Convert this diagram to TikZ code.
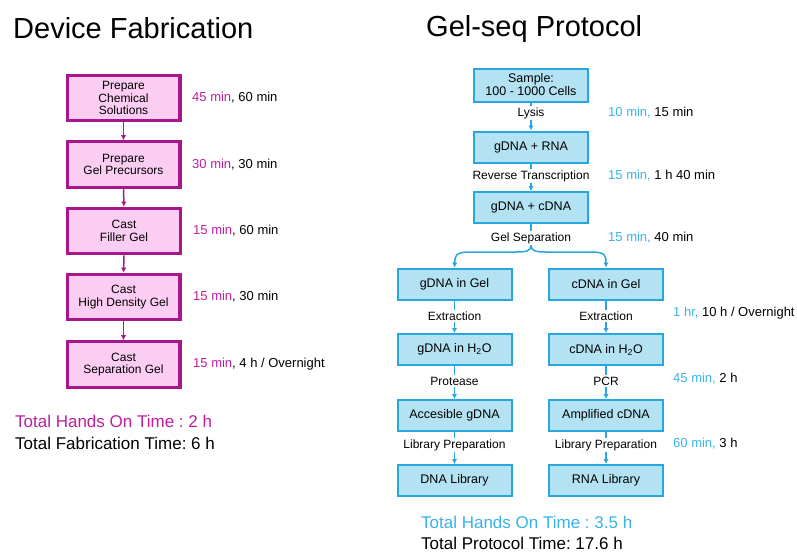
\documentclass[tikz,border=0pt]{standalone}
\usepackage{fontspec}
\setmainfont{Liberation Sans}
\usetikzlibrary{arrows.meta}
\definecolor{magB}{HTML}{A8168C}
\definecolor{magF}{HTML}{FCCDF3}
\definecolor{magT}{HTML}{BE1E9E}
\definecolor{bluB}{HTML}{27A7DE}
\definecolor{bluF}{HTML}{B3E3F3}
\definecolor{bluT}{HTML}{37B3E8}
\frenchspacing
\begin{document}
\begin{tikzpicture}[x=1pt,y=-1pt,
  lbox/.style={draw=magB,fill=magF,line width=3.2pt,minimum width=112.8pt,minimum height=45.5pt,inner sep=0pt,align=center,font=\fontsize{12}{12.5}\selectfont},
  rbox/.style={draw=bluB,fill=bluF,line width=2pt,minimum width=114pt,minimum height=31pt,inner sep=0pt,align=center,font=\fontsize{12.5}{13}\selectfont},
  elab/.style={inner sep=1.5pt,font=\fontsize{12}{12}\selectfont},
  tlab/.style={anchor=west,inner sep=0pt,font=\fontsize{13}{13}\selectfont},
  ttl/.style={anchor=base west,inner sep=0pt,font=\fontsize{29}{29}\selectfont},
  tot/.style={anchor=base west,inner sep=0pt,font=\fontsize{17}{17}\selectfont},
  larr/.style={draw=magB,line width=1.5pt,-{Latex[length=5pt,width=5.5pt]}},
  rline/.style={draw=bluB,line width=1.5pt},
  rarr/.style={draw=bluB,line width=1.5pt,-{Latex[length=5pt,width=5.5pt]}}]
\useasboundingbox (0,0) rectangle (797,554);
% titles
\node[ttl] (tl) at (13,38) {Device Fabrication};
\node[ttl] (tr) at (426,36) {Gel-seq Protocol};
% left column
\node[lbox] (l1) at (123.5,98) {Prepare\\Chemical\\Solutions};
\node[lbox] (l2) at (123.5,164.5) {Prepare\\Gel Precursors};
\node[lbox] (l3) at (124,231) {Cast\\Filler Gel};
\node[lbox] (l4) at (123.5,297) {Cast\\High Density Gel};
\node[lbox] (l5) at (123.5,364.5) {Cast\\Separation Gel};
\draw[larr] (l1) -- (l2);
\draw[larr] (l2) -- (l3);
\draw[larr] (l3) -- (l4);
\draw[larr] (l4) -- (l5);
\node[tlab] (lt1) at (192,98) {\textcolor{magT}{45 min}, 60 min};
\node[tlab] (lt2) at (192,164.5) {\textcolor{magT}{30 min}, 30 min};
\node[tlab] (lt3) at (193,231) {\textcolor{magT}{15 min}, 60 min};
\node[tlab] (lt4) at (193,297) {\textcolor{magT}{15 min}, 30 min};
\node[tlab] (lt5) at (193,364.5) {\textcolor{magT}{15 min}, 4 h / Overnight};
\node[tot,text=magT] (lh) at (15,427) {Total Hands On Time : 2 h};
\node[tot] (lf) at (15,449) {Total Fabrication Time: 6 h};
% right column
\node[rbox,minimum height=33pt] (s) at (531,85) {Sample:\\100 - 1000 Cells};
\node[rbox] (r1) at (531,147) {gDNA + RNA};
\node[rbox] (r2) at (531,207.5) {gDNA + cDNA};
\node[elab] (e1) at (531,113) {Lysis};
\node[elab] (e2) at (531,176) {Reverse Transcription};
\node[elab] (e3) at (531,238) {Gel Separation};
\draw[rline] (s) -- (e1); \draw[rarr] (e1) -- (r1);
\draw[rline] (r1) -- (e2); \draw[rarr] (e2) -- (r2);
\draw[rline] (r2) -- (e3);
\node[rbox] (g1) at (454.5,284) {gDNA in Gel};
\node[rbox] (c1) at (606,284) {cDNA in Gel};
\node[rbox] (g2) at (454.5,349.5) {gDNA in H\textsubscript{2}O};
\node[rbox] (c2) at (606,349.5) {cDNA in H\textsubscript{2}O};
\node[rbox] (g3) at (454.5,415.5) {Accesible gDNA};
\node[rbox] (c3) at (606,415.5) {Amplified cDNA};
\node[rbox] (g4) at (454.5,480.5) {DNA Library};
\node[rbox] (c4) at (606,480.5) {RNA Library};
\draw[rarr] (e3.south) .. controls (531,251) and (526,252) .. (516,252) -- (470,252) .. controls (455,252) and (455,256) .. (g1.north);
\draw[rarr] (e3.south) .. controls (531,251) and (536,252) .. (546,252) -- (591,252) .. controls (606,252) and (606,256) .. (c1.north);
\node[elab] (ge1) at (454.5,316) {Extraction};
\node[elab] (ce1) at (606,316) {Extraction};
\node[elab] (ge2) at (454.5,381) {Protease};
\node[elab] (ce2) at (606,381) {PCR};
\node[elab] (ge3) at (454.5,445) {Library Preparation};
\node[elab] (ce3) at (606,445) {Library Preparation};
\draw[rline] (g1) -- (ge1); \draw[rarr] (ge1) -- (g2);
\draw[rline] (g2) -- (ge2); \draw[rarr] (ge2) -- (g3);
\draw[rline] (g3) -- (ge3); \draw[rarr] (ge3) -- (g4);
\draw[rline] (c1) -- (ce1); \draw[rarr] (ce1) -- (c2);
\draw[rline] (c2) -- (ce2); \draw[rarr] (ce2) -- (c3);
\draw[rline] (c3) -- (ce3); \draw[rarr] (ce3) -- (c4);
\node[tlab] (rt1) at (608,113) {\textcolor{bluT}{10 min,} 15 min};
\node[tlab] (rt2) at (608,176) {\textcolor{bluT}{15 min,} 1 h 40 min};
\node[tlab] (rt3) at (608,238) {\textcolor{bluT}{15 min,} 40 min};
\node[tlab] (rt4) at (673,313) {\textcolor{bluT}{1 hr,} 10 h / Overnight};
\node[tlab] (rt5) at (673,379) {\textcolor{bluT}{45 min,} 2 h};
\node[tlab] (rt6) at (673,444) {\textcolor{bluT}{60 min,} 3 h};
\node[tot,text=bluT] (rh) at (421,528) {Total Hands On Time : 3.5 h};
\node[tot] (rf) at (421,549) {Total Protocol Time: 17.6 h};
\end{tikzpicture}
\end{document}
